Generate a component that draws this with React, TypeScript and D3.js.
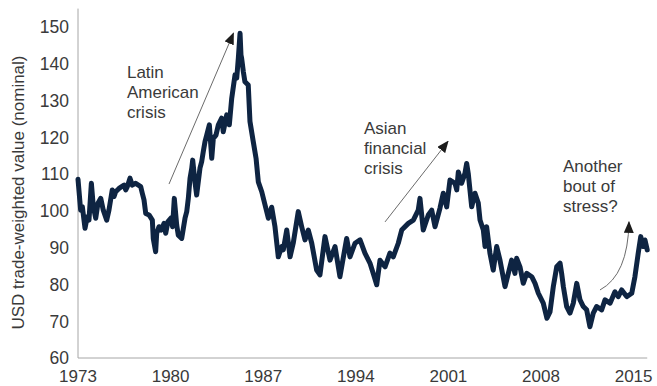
import React from "react";
import * as d3 from "d3";

// Trade-weighted US dollar index (nominal), sampled through time.
const years = [
  1973.0, 1973.2, 1973.33, 1973.53, 1973.7, 1973.83, 1974.01, 1974.16, 1974.34, 1974.51,
  1974.72, 1974.91, 1975.17, 1975.34, 1975.59, 1975.72, 1975.85, 1976.1, 1976.48, 1976.61,
  1976.73, 1976.93, 1977.1, 1977.36, 1977.74, 1977.86, 1977.99, 1978.12, 1978.37, 1978.62,
  1978.69, 1978.87, 1978.95, 1979.12, 1979.3, 1979.5, 1979.63, 1979.8, 1980.01, 1980.15,
  1980.28, 1980.46, 1980.58, 1980.84, 1981.09, 1981.22, 1981.34, 1981.47, 1981.6, 1981.67,
  1981.84, 1981.97, 1982.22, 1982.35, 1982.47, 1982.6, 1982.73, 1982.93, 1983.11, 1983.23,
  1983.43, 1983.61, 1983.86, 1983.98, 1984.24, 1984.44, 1984.62, 1984.87, 1985.0, 1985.12,
  1985.25, 1985.32, 1985.37, 1985.5, 1985.62, 1985.87, 1986.0, 1986.25, 1986.46, 1986.63,
  1986.89, 1987.14, 1987.39, 1987.64, 1987.89, 1988.14, 1988.4, 1988.52, 1988.78, 1989.03,
  1989.27, 1989.65, 1989.91, 1990.16, 1990.41, 1990.67, 1991.04, 1991.29, 1991.67, 1992.05,
  1992.43, 1992.8, 1993.31, 1993.56, 1993.94, 1994.32, 1994.69, 1995.07, 1995.32, 1995.58,
  1995.83, 1996.21, 1996.58, 1996.83, 1997.21, 1997.47, 1997.97, 1998.35, 1998.72, 1998.85,
  1999.1, 1999.48, 1999.74, 1999.99, 2000.36, 2000.61, 2000.87, 2001.12, 2001.5, 2001.63,
  2001.75, 2002.0, 2002.25, 2002.38, 2002.5, 2002.76, 2003.01, 2003.26, 2003.39, 2003.64,
  2003.77, 2003.89, 2004.14, 2004.39, 2004.65, 2004.9, 2005.28, 2005.53, 2005.78, 2006.03,
  2006.16, 2006.41, 2006.66, 2006.92, 2007.3, 2007.55, 2007.8, 2008.17, 2008.45, 2008.68,
  2008.93, 2009.19, 2009.44, 2009.56, 2009.69, 2009.94, 2010.19, 2010.44, 2010.7, 2010.95,
  2011.2, 2011.45, 2011.7, 2011.95, 2012.21, 2012.59, 2012.84, 2013.22, 2013.59, 2013.84,
  2014.1, 2014.48, 2014.86, 2015.1, 2015.35, 2015.54, 2015.73, 2015.86, 2016.03,
];

const usdIndex = [
  108.6, 100.2, 101.1, 95.3, 98.4, 97.5, 107.5, 101.1, 98.0, 102.1,
  103.4, 100.2, 97.5, 100.2, 105.7, 103.9, 105.2, 106.1, 107.0, 105.7,
  106.6, 108.9, 107.0, 107.5, 106.6, 104.8, 103.0, 99.3, 98.9, 97.5,
  92.5, 88.9, 93.9, 95.7, 94.8, 96.6, 93.9, 97.1, 98.0, 95.7,
  103.4, 96.2, 93.4, 92.5, 98.0, 99.8, 103.4, 108.9, 111.6, 113.8,
  107.9, 104.3, 111.6, 113.4, 116.1, 118.8, 120.6, 123.4, 114.3, 119.7,
  120.6, 123.4, 125.2, 121.5, 126.1, 123.4, 130.6, 137.0, 136.1, 141.5,
  148.3, 142.4, 141.5, 137.8, 135.1, 134.2, 124.3, 118.8, 114.3, 107.9,
  105.2, 101.6, 98.0, 101.0, 95.7, 87.5, 90.3, 89.4, 94.8, 87.5,
  91.2, 99.8, 95.7, 92.1, 94.8, 91.2, 83.9, 82.6, 93.0, 86.6,
  90.3, 82.1, 92.5, 87.5, 91.2, 92.1, 88.5, 85.8, 83.0, 79.9,
  86.6, 84.8, 88.5, 87.5, 91.2, 94.8, 96.6, 97.5, 100.2, 103.4,
  94.8, 98.9, 100.2, 95.7, 100.7, 104.8, 101.1, 108.4, 107.5, 105.7,
  110.6, 107.5, 110.2, 112.9, 110.2, 101.1, 104.8, 102.1, 97.5, 94.8,
  90.3, 95.7, 88.5, 83.9, 90.3, 86.6, 79.4, 83.0, 86.6, 83.0,
  87.1, 84.8, 80.3, 83.0, 82.1, 80.3, 77.6, 74.9, 70.8, 72.5,
  79.4, 84.8, 85.8, 83.0, 79.4, 74.0, 72.2, 74.9, 80.3, 75.8,
  74.0, 73.1, 68.5, 72.2, 74.0, 73.1, 75.8, 74.9, 78.0, 76.7,
  78.5, 76.7, 77.6, 82.1, 88.5, 93.0, 90.3, 92.1, 89.4,
];

const xTickYears = [1973, 1980, 1987, 1994, 2001, 2008, 2015];
const yTickValues = [60, 70, 80, 90, 100, 110, 120, 130, 140, 150];
const yAxisTitle = "USD trade-weighted value (nominal)";

const latinLabel = ["Latin", "American", "crisis"];
const asianLabel = ["Asian", "financial", "crisis"];
const stressLabel = ["Another", "bout of", "stress?"];

const W = 657;
const H = 386;
const FONT = "'Liberation Sans', Arial, Helvetica, sans-serif";
const TEXT = "#3a3a3a";

export default function App() {
  const x = d3.scaleLinear().domain([1973, 2015]).range([78, 633.6]);
  const y = d3.scaleLinear().domain([60, 155]).range([358, 8.6]);

  const points = years.map((yr, i) => [yr, usdIndex[i]] as [number, number]);
  const line = d3
    .line<[number, number]>()
    .x((d) => x(d[0]))
    .y((d) => y(d[1]))
    .curve(d3.curveLinear);

  const baseY = y(60);
  const lastX = x(years[years.length - 1]);

  // annotation label with lines stacked 20px apart
  const label = (lines: string[], yr: number, val: number) =>
    lines.map((t, i) => (
      <text
        key={t + i}
        x={x(yr)}
        y={y(val) + i * 20}
        fontSize={17}
        fill={TEXT}
        fontFamily={FONT}
      >
        {t}
      </text>
    ));

  const arrow = (a: [number, number], b: [number, number]) => (
    <line
      x1={x(a[0])}
      y1={y(a[1])}
      x2={x(b[0])}
      y2={y(b[1])}
      stroke="#6b6b6b"
      strokeWidth={1}
      markerEnd="url(#head)"
    />
  );

  const curveStart: [number, number] = [2012.46, 78.5];
  const curveCtrl: [number, number] = [2014.58, 82.6];
  const curveEnd: [number, number] = [2014.65, 97.0];

  return (
    <svg
      width={W}
      height={H}
      style={{ position: "absolute", left: 0, top: 0, background: "#fff" }}
    >
      <defs>
        <marker
          id="head"
          viewBox="0 0 12 10"
          refX={11}
          refY={5}
          markerWidth={12}
          markerHeight={10}
          markerUnits="userSpaceOnUse"
          orient="auto"
        >
          <path d="M0,0 L12,5 L0,10 Z" fill="#1c1c1c" />
        </marker>
      </defs>

      {/* axes */}
      <line x1={78} x2={78} y1={y(155)} y2={baseY} stroke="#a6a6a6" strokeWidth={1} />
      <line x1={78} x2={lastX} y1={baseY} y2={baseY} stroke="#a6a6a6" strokeWidth={1} />

      {yTickValues.map((v) => (
        <text
          key={v}
          x={69}
          y={y(v)}
          dy="0.36em"
          textAnchor="end"
          fontSize={17.5}
          fill={TEXT}
          fontFamily={FONT}
        >
          {v}
        </text>
      ))}

      {xTickYears.map((yr) => (
        <text
          key={yr}
          x={x(yr)}
          y={382}
          textAnchor="middle"
          fontSize={17}
          fill={TEXT}
          fontFamily={FONT}
        >
          {yr}
        </text>
      ))}

      <text
        transform={`translate(24, ${(y(150) + baseY) / 2}) rotate(-90)`}
        textAnchor="middle"
        fontSize={17}
        fill={TEXT}
        fontFamily={FONT}
      >
        {yAxisTitle}
      </text>

      {/* index line */}
      <path
        d={line(points) ?? ""}
        fill="none"
        stroke="#0e2442"
        strokeWidth={5}
        strokeLinejoin="round"
        strokeLinecap="round"
      />

      {/* annotations */}
      {label(latinLabel, 1976.7, 136.1)}
      {arrow([1979.88, 107.3], [1984.75, 148.3])}

      {label(asianLabel, 1994.62, 120.9)}
      {arrow([1996.21, 97.0], [2000.97, 118.9])}

      {label(stressLabel, 2009.66, 110.6)}
      <path
        d={`M${x(curveStart[0])},${y(curveStart[1])} Q${x(curveCtrl[0])},${y(curveCtrl[1])} ${x(curveEnd[0])},${y(curveEnd[1])}`}
        fill="none"
        stroke="#6b6b6b"
        strokeWidth={1}
        markerEnd="url(#head)"
      />
    </svg>
  );
}
